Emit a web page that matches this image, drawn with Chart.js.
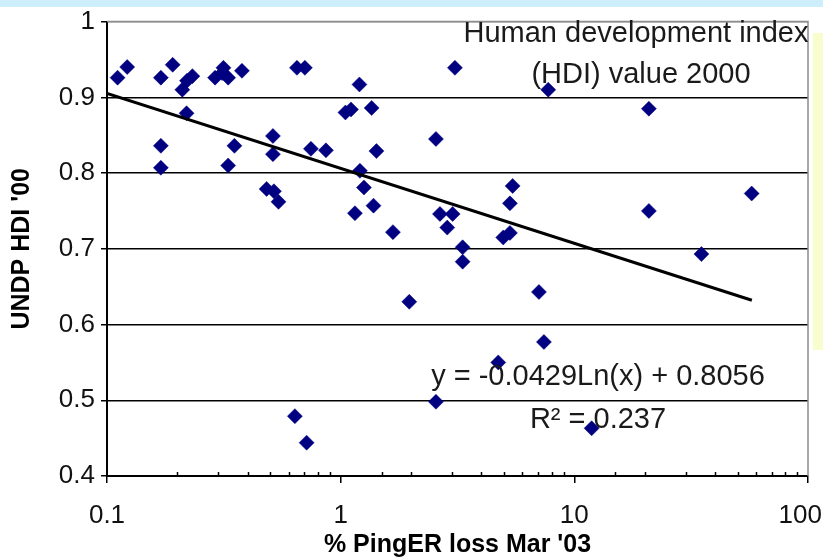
<!DOCTYPE html>
<html><head><meta charset="utf-8">
<script src="https://cdn.jsdelivr.net/npm/chart.js@4/dist/chart.umd.min.js"></script>
<style>html,body{margin:0;padding:0;background:#fff;overflow:hidden}canvas{display:block}</style>
</head><body>
<canvas id="c" width="823" height="560"></canvas>
<script>
// ---- data ----
const lossPct = [0.111,0.122,0.170,0.191,0.210,0.220,0.232,0.219,0.170,0.170,
  0.290,0.315,0.330,0.311,0.378,0.351,0.330,0.513,0.513,0.482,
  0.518,0.542,0.650,0.703,0.746,0.865,0.637,0.715,1.048,1.107,
  1.203,1.357,1.423,1.209,1.258,1.151,1.382,1.674,1.966,2.557,
  2.557,2.66,3.015,2.858,3.083,3.327,3.327,4.725,4.964,5.302,
  5.302,5.445,7.057,7.41,7.732,11.86,20.85,20.85,35.0,57.4];
const hdi = [0.926,0.940,0.926,0.943,0.910,0.922,0.928,0.879,0.836,0.807,
  0.926,0.939,0.926,0.932,0.935,0.836,0.810,0.849,0.825,0.779,
  0.776,0.762,0.939,0.939,0.832,0.830,0.479,0.444,0.880,0.884,
  0.917,0.886,0.829,0.803,0.781,0.747,0.757,0.722,0.630,0.845,
  0.498,0.746,0.746,0.728,0.939,0.702,0.683,0.550,0.715,0.721,
  0.760,0.783,0.643,0.577,0.910,0.463,0.885,0.750,0.693,0.773];
const trendLoss = [0.1, 57.5];
const trendHdi = [0.905, 0.632];
const xTickLabels = [0.1, 1, 10, 100];
const yTickValues = [0.4, 0.5, 0.6, 0.7, 0.8, 0.9, 1];
const xTitle = "% PingER loss Mar '03";
const yTitle = "UNDP HDI '00";
const noteLines = ["Human development index", "(HDI) value 2000"];
const eqLines = ["y = -0.0429Ln(x) + 0.8056", "R\u00B2 = 0.237"];

const FAM = "'Liberation Sans', Arial, sans-serif";
const isLabeled = v => xTickLabels.some(t => Math.abs(t - v) / t < 1e-6);

const deco = {
  id: 'deco',
  beforeDraw(chart) {
    const ctx = chart.ctx;
    ctx.save();
    ctx.fillStyle = '#ffffff'; ctx.fillRect(0, 0, 823, 560);
    ctx.fillStyle = '#cdeefb'; ctx.fillRect(0, 0, 823, 7);
    ctx.fillStyle = '#f7fdcc'; ctx.fillRect(813, 33, 10, 317);
    ctx.restore();
    // keep the last x label inside the canvas, as in the reference
    const items = chart.scales.x.getLabelItems();
    const last = items.filter(it => it.label !== '').pop();
    if (last) { last.options.textAlign = 'right'; last.options.translation[0] = 822; }
  },
  beforeDatasetsDraw(chart) {
    const {ctx, chartArea: a} = chart;
    ctx.save();
    ctx.strokeStyle = '#8c8c8c'; ctx.lineWidth = 1.5;
    ctx.beginPath(); ctx.moveTo(a.left, a.top); ctx.lineTo(a.right, a.top); ctx.lineTo(a.right, a.bottom); ctx.stroke();
    const xs = chart.scales.x;
    ctx.strokeStyle = '#000'; ctx.lineWidth = 1.5;
    xs.ticks.forEach(t => {
      if (!isLabeled(t.value)) {
        const px = Math.round(xs.getPixelForValue(t.value)) + 0.5;
        ctx.beginPath(); ctx.moveTo(px, a.bottom); ctx.lineTo(px, a.bottom - 4); ctx.stroke();
      }
    });
    ctx.restore();
  },
  afterDatasetsDraw(chart) {
    const ctx = chart.ctx;
    ctx.save();
    ctx.fillStyle = '#1a1a1a';
    ctx.font = "29px " + FAM;
    ctx.textAlign = 'center'; ctx.textBaseline = 'middle';
    ctx.fillText(noteLines[0], 636, 34);
    ctx.fillText(noteLines[1], 641, 75);
    ctx.fillText(eqLines[0], 598, 377);
    ctx.fillText(eqLines[1], 598, 420);
    ctx.restore();
  }
};

new Chart(document.getElementById('c'), {
  type: 'scatter',
  data: {
    datasets: [
      {
        label: 'trend',
        data: trendLoss.map((x, i) => ({x, y: trendHdi[i]})),
        showLine: true, borderColor: '#000', borderWidth: 3, pointRadius: 0, fill: false, order: 0
      },
      {
        label: 'HDI',
        data: lossPct.map((x, i) => ({x, y: hdi[i]})),
        pointStyle: 'rectRot', pointRadius: 7.5, backgroundColor: '#000080', borderColor: '#000080', borderWidth: 0.5, order: 1
      }
    ]
  },
  options: {
    responsive: false, animation: false, devicePixelRatio: 1,
    layout: {padding: {top: 20, right: 15, left: 0, bottom: 0}},
    plugins: {legend: {display: false}, tooltip: {enabled: false}},
    scales: {
      x: {
        type: 'logarithmic', min: 0.1, max: 100,
        border: {color: '#000', width: 2},
        grid: {drawOnChartArea: false, tickLength: 7, lineWidth: 1.5,
          color: c => (c.tick && isLabeled(c.tick.value)) ? '#000' : 'rgba(0,0,0,0)'},
        ticks: {autoSkip: false, maxRotation: 0, minRotation: 0, padding: 17, color: '#111',
          font: {family: FAM, size: 26},
          callback: v => { const m = xTickLabels.find(t => Math.abs(t - v) / t < 1e-6); return m !== undefined ? String(m) : ''; }},
        title: {display: true, text: xTitle, color: '#000', font: {family: FAM, size: 25, weight: 'bold'}, padding: {top: 0, bottom: 0}},
        afterFit: s => { s.height = 84; s.paddingLeft = 0; s.paddingRight = 0; }
      },
      y: {
        min: 0.4, max: 1,
        border: {color: '#000', width: 2},
        afterBuildTicks: s => { s.ticks = yTickValues.map(v => ({value: v})); },
        grid: {lineWidth: 1.5, tickLength: 6, tickColor: '#000',
          color: c => (c.tick && c.tick.value >= 0.999) ? '#8c8c8c' : '#000'},
        ticks: {padding: 6, color: '#111', font: {family: FAM, size: 26},
          callback: v => String(Math.round(v * 10) / 10)},
        title: {display: true, text: yTitle, color: '#000', font: {family: FAM, size: 25, weight: 'bold'}, padding: {top: 7, bottom: 0}},
        afterFit: s => { s.width = 107; }
      }
    }
  },
  plugins: [deco]
});
</script>
</body></html>
